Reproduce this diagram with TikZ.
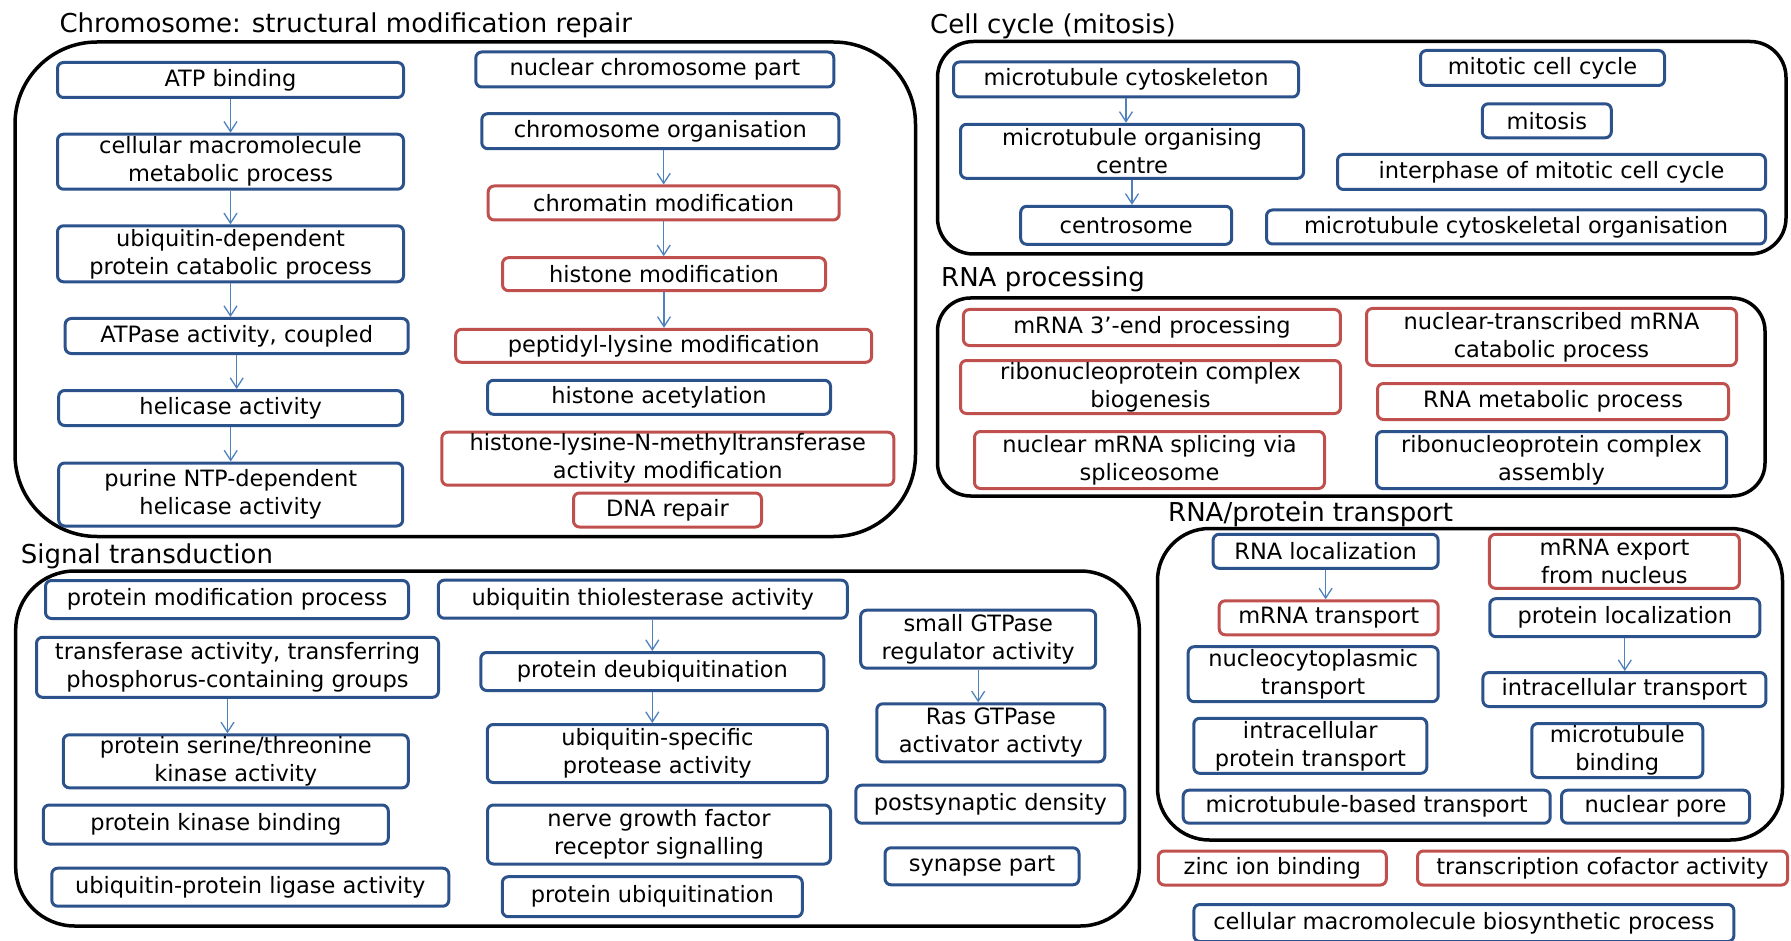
\documentclass[tikz,border=0pt]{standalone}
\usepackage{fontspec}
\setmainfont{DejaVu Sans}
\usetikzlibrary{arrows.meta}
\definecolor{termblue}{RGB}{44,82,140}
\definecolor{termred}{RGB}{192,80,77}
\definecolor{linkblue}{RGB}{79,129,189}
\begin{document}
\begin{tikzpicture}[x=1pt,y=-1pt,>={Straight Barb[length=10pt,width=13pt]},
		term/.style={draw,line width=3pt,rounded corners=6pt,inner sep=1pt,align=center,font=\fontsize{22.5pt}{28pt}\selectfont},
		blueterm/.style={term,draw=termblue},
		redterm/.style={term,draw=termred},
		sz/.style 2 args={minimum width=#1,minimum height=#2},
		group/.style={draw=black,line width=3.5pt},
		heading/.style={anchor=base west,inner sep=0pt,font=\fontsize{26pt}{30pt}\selectfont},
		link/.style={->,draw=linkblue,line width=1.3pt}]
			\useasboundingbox (0,0) rectangle (1791,941);
			\draw[group,rounded corners=82pt] (15,42) rectangle (915.5,536.5);
			\draw[group,rounded corners=36pt] (937.5,41.5) rectangle (1786,254);
			\draw[group,rounded corners=33pt] (937.5,298) rectangle (1765,496);
			\draw[group,rounded corners=52pt] (1157.5,528.5) rectangle (1782.5,840);
			\draw[group,rounded corners=59pt] (15.7,571) rectangle (1139.3,926);
			\node[heading] (chromtitle) at (59.3,32.3) {Chromosome: structural modification repair};
			\node[heading] (celltitle) at (930,33.3) {Cell cycle (mitosis)};
			\node[heading] (rnatitle) at (941,287) {RNA processing};
			\node[heading] (transtitle) at (1168,521.7) {RNA/protein transport};
			\node[heading] (sigtitle) at (20.7,563) {Signal transduction};
			\node[blueterm,sz={346}{35}] (atp) at (230.5,80) {ATP binding};
			\node[blueterm,sz={346}{55}] (cellmeta) at (230.5,161.7) {cellular macromolecule\\metabolic process};
			\node[blueterm,sz={346}{56}] (ubdep) at (230.5,253.8) {ubiquitin-dependent\\protein catabolic process};
			\node[blueterm,sz={343}{35}] (atpase) at (236.7,336) {ATPase activity, coupled};
			\node[blueterm,sz={344}{35}] (helicase) at (230.7,408) {helicase activity};
			\node[blueterm,sz={344}{63}] (purine) at (230.7,494.5) {purine NTP-dependent\\helicase activity};
			\node[blueterm,sz={358}{35}] (nucchrom) at (654.8,69.5) {nuclear chromosome part};
			\node[blueterm,sz={357}{35}] (chromorg) at (660.3,131.2) {chromosome organisation};
			\node[redterm,sz={351}{34}] (chromatin) at (663.7,203) {chromatin modification};
			\node[redterm,sz={323}{33}] (histmod) at (664,274.2) {histone modification};
			\node[redterm,sz={416}{33}] (peptidyl) at (663.7,345.8) {peptidyl-lysine modification};
			\node[blueterm,sz={343}{34}] (histacet) at (659,397.3) {histone acetylation};
			\node[redterm,sz={452}{53}] (methyl) at (667.8,458.7) {histone-lysine-N-methyltransferase\\activity modification};
			\node[redterm,sz={188}{34}] (dnarep) at (667.5,510) {DNA repair};
			\node[blueterm,sz={345}{35}] (mtcyto) at (1126,79.5) {microtubule cytoskeleton};
			\node[blueterm,sz={343}{54}] (mtoc) at (1132,151.3) {microtubule organising\\centre};
			\node[blueterm,sz={211}{38}] (centro) at (1126.2,225.3) {centrosome};
			\node[blueterm,sz={244}{35}] (mitotic) at (1542.5,68) {mitotic cell cycle};
			\node[blueterm,sz={129}{34}] (mitosis) at (1546.8,120.8) {mitosis};
			\node[blueterm,sz={428}{35}] (interphase) at (1551.5,172) {interphase of mitotic cell cycle};
			\node[blueterm,sz={499}{34}] (mtorg) at (1516,227) {microtubule cytoskeletal organisation};
			\node[redterm,sz={377}{36}] (mrna3) at (1151.9,327.5) {mRNA 3’-end processing};
			\node[redterm,sz={380}{53}] (ribobio) at (1150.5,387) {ribonucleoprotein complex\\biogenesis};
			\node[redterm,sz={350}{57}] (splice) at (1149.5,460) {nuclear mRNA splicing via\\spliceosome};
			\node[redterm,sz={370}{57}] (nuctrans) at (1551.5,337) {nuclear-transcribed mRNA\\catabolic process};
			\node[redterm,sz={351}{36}] (rnameta) at (1553,401.5) {RNA metabolic process};
			\node[blueterm,sz={350}{57}] (riboasm) at (1551.5,460) {ribonucleoprotein complex\\assembly};
			\node[blueterm,sz={225}{34}] (rnaloc) at (1325.6,551.3) {RNA localization};
			\node[redterm,sz={219}{34}] (mrnatr) at (1328.7,617.8) {mRNA transport};
			\node[blueterm,sz={250}{55}] (nucleo) at (1313.2,674.2) {nucleocytoplasmic\\transport};
			\node[blueterm,sz={233}{55}] (intraprot) at (1310.3,745.8) {intracellular\\protein transport};
			\node[blueterm,sz={367}{33}] (mtbased) at (1366.7,806.7) {microtubule-based transport};
			\node[redterm,sz={250}{54}] (mrnaexp) at (1614.4,561.3) {mRNA export\\from nucleus};
			\node[blueterm,sz={270}{38}] (protloc) at (1624.8,617.7) {protein localization};
			\node[blueterm,sz={283}{34}] (intratr) at (1624.4,689.5) {intracellular transport};
			\node[blueterm,sz={171}{54}] (mtbind) at (1617.3,750.5) {microtubule\\binding};
			\node[blueterm,sz={188}{33}] (nucpore) at (1655.5,806.7) {nuclear pore};
			\node[redterm,sz={228}{34}] (zinc) at (1272.3,868) {zinc ion binding};
			\node[redterm,sz={370}{34}] (transcof) at (1602.5,868) {transcription cofactor activity};
			\node[blueterm,sz={540}{37}] (cellbio) at (1463.9,923) {cellular macromolecule biosynthetic process};
			\node[blueterm,sz={363}{38}] (protmod) at (227,599.5) {protein modification process};
			\node[blueterm,sz={402}{60}] (transfer) at (237.5,667.3) {transferase activity, transferring\\phosphorus-containing groups};
			\node[blueterm,sz={345}{53}] (serthr) at (235.8,761.3) {protein serine/threonine\\kinase activity};
			\node[blueterm,sz={345}{39}] (pkbind) at (215.8,824.5) {protein kinase binding};
			\node[blueterm,sz={397}{38}] (ubligase) at (250.3,887.2) {ubiquitin-protein ligase activity};
			\node[blueterm,sz={409}{38}] (ubthiol) at (642.8,599.2) {ubiquitin thiolesterase activity};
			\node[blueterm,sz={343}{38}] (deubiq) at (652.3,671.5) {protein deubiquitination};
			\node[blueterm,sz={340}{58}] (ubspec) at (657.3,753.5) {ubiquitin-specific\\protease activity};
			\node[blueterm,sz={343}{59}] (nerve) at (659,834.5) {nerve growth factor\\receptor signalling};
			\node[blueterm,sz={300}{40}] (protubiq) at (652.3,896.7) {protein ubiquitination};
			\node[blueterm,sz={235}{58}] (smallgtp) at (978.2,639.2) {small GTPase\\regulator activity};
			\node[blueterm,sz={228}{58}] (ras) at (990.8,732.8) {Ras GTPase\\activator activty};
			\node[blueterm,sz={269}{38}] (postsyn) at (990.3,804.2) {postsynaptic density};
			\node[blueterm,sz={194}{37}] (synapse) at (982,866.3) {synapse part};
			\draw[link] (atp.south) -- (atp.south |- cellmeta.north);
			\draw[link] (cellmeta.south) -- (cellmeta.south |- ubdep.north);
			\draw[link] (ubdep.south) -- (ubdep.south |- atpase.north);
			\draw[link] (atpase.south) -- (atpase.south |- helicase.north);
			\draw[link] (helicase.south) -- (helicase.south |- purine.north);
			\draw[link] (chromatin.north |- chromorg.south) -- (chromatin.north);
			\draw[link] (chromatin.south) -- (chromatin.south |- histmod.north);
			\draw[link] (histmod.south) -- (histmod.south |- peptidyl.north);
			\draw[link] (mtcyto.south) -- (mtcyto.south |- mtoc.north);
			\draw[link] (mtoc.south) -- (mtoc.south |- centro.north);
			\draw[link] (rnaloc.south) -- (rnaloc.south |- mrnatr.north);
			\draw[link] (protloc.south) -- (protloc.south |- intratr.north);
			\draw[link] ([xshift=-10pt]transfer.south) -- ([xshift=-10pt]transfer.south |- serthr.north);
			\draw[link] (deubiq.north |- ubthiol.south) -- (deubiq.north);
			\draw[link] (deubiq.south) -- (deubiq.south |- ubspec.north);
			\draw[link] (smallgtp.south) -- (smallgtp.south |- ras.north);
	\end{tikzpicture}
\end{document}
